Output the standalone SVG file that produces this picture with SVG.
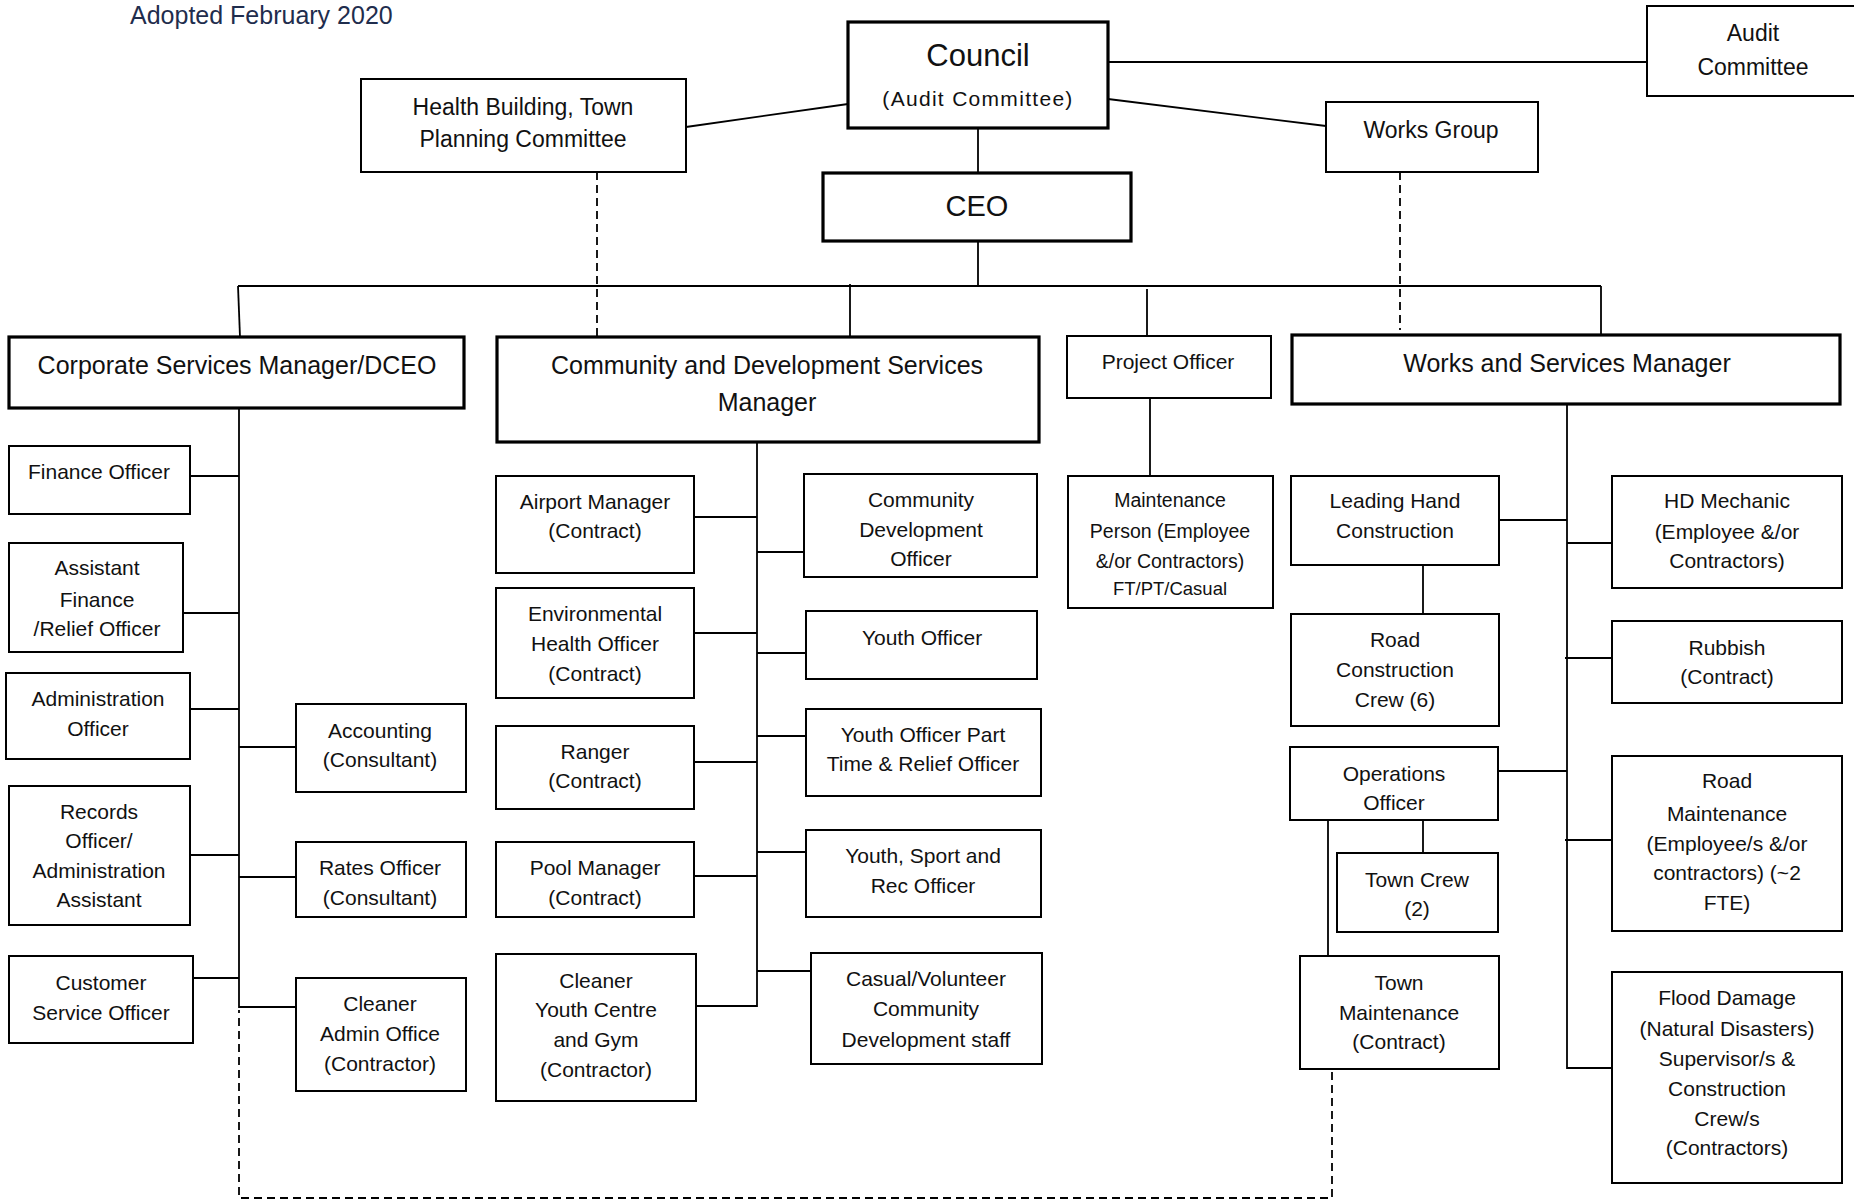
<svg xmlns="http://www.w3.org/2000/svg" width="1854" height="1201" viewBox="0 0 1854 1201">
<style>
.box{fill:#fff;stroke:#000;stroke-width:2}
.thick{stroke-width:3.2}
.t{font-family:"Liberation Sans",Arial,sans-serif;font-size:21px;text-anchor:middle;dominant-baseline:central;fill:#111}
.big{font-size:25px}
.top{font-size:23px}
.sm{font-size:19.5px}
.xs{font-size:18.5px}
.ln{stroke:#000;stroke-width:1.8;fill:none}
.dash{stroke:#000;stroke-width:1.8;fill:none;stroke-dasharray:8 5}
</style>
<rect width="1854" height="1201" fill="#fff"/>
<text x="130" y="24" style="font-family:'Liberation Sans',Arial,sans-serif;font-size:25px;fill:#1f2d4d">Adopted February 2020</text>

<g id="connectors">
<line class="ln" x1="686" y1="127" x2="848" y2="104"/>
<line class="ln" x1="1108" y1="62" x2="1647" y2="62"/>
<line class="ln" x1="1108" y1="99" x2="1326" y2="126"/>
<line class="ln" x1="978" y1="128" x2="978" y2="173"/>
<line class="ln" x1="978" y1="241" x2="978" y2="286"/>
<line class="ln" x1="238" y1="286" x2="1601" y2="286"/>
<line class="ln" x1="238" y1="286" x2="240" y2="337"/>
<line class="ln" x1="850" y1="284" x2="850" y2="337"/>
<line class="ln" x1="1147" y1="289" x2="1147" y2="336"/>
<line class="ln" x1="1601" y1="286" x2="1601" y2="334"/>
<line class="dash" x1="597" y1="172" x2="597" y2="337"/>
<line class="dash" x1="1400" y1="172" x2="1400" y2="330"/>
<!-- corporate -->
<line class="ln" x1="239" y1="408" x2="239" y2="1008"/>
<line class="ln" x1="190" y1="476" x2="239" y2="476"/>
<line class="ln" x1="183" y1="613" x2="239" y2="613"/>
<line class="ln" x1="190" y1="709" x2="239" y2="709"/>
<line class="ln" x1="239" y1="747" x2="296" y2="747"/>
<line class="ln" x1="190" y1="855" x2="239" y2="855"/>
<line class="ln" x1="239" y1="877" x2="296" y2="877"/>
<line class="ln" x1="193" y1="978" x2="239" y2="978"/>
<line class="ln" x1="239" y1="1007" x2="296" y2="1007"/>
<!-- community -->
<line class="ln" x1="757" y1="442" x2="757" y2="1007"/>
<line class="ln" x1="694" y1="517" x2="757" y2="517"/>
<line class="ln" x1="694" y1="633" x2="757" y2="633"/>
<line class="ln" x1="694" y1="762" x2="757" y2="762"/>
<line class="ln" x1="694" y1="876" x2="757" y2="876"/>
<line class="ln" x1="696" y1="1006" x2="757" y2="1006"/>
<line class="ln" x1="757" y1="552" x2="807" y2="552"/>
<line class="ln" x1="757" y1="653" x2="806" y2="653"/>
<line class="ln" x1="757" y1="736" x2="806" y2="736"/>
<line class="ln" x1="757" y1="852" x2="806" y2="852"/>
<line class="ln" x1="757" y1="971" x2="811" y2="971"/>
<!-- project -->
<line class="ln" x1="1150" y1="398" x2="1150" y2="476"/>
<!-- works -->
<line class="ln" x1="1567" y1="404" x2="1567" y2="1069"/>
<line class="ln" x1="1499" y1="520" x2="1567" y2="520"/>
<line class="ln" x1="1423" y1="565" x2="1423" y2="614"/>
<line class="ln" x1="1498" y1="771" x2="1567" y2="771"/>
<line class="ln" x1="1423" y1="818" x2="1423" y2="853"/>
<line class="ln" x1="1328" y1="820" x2="1328" y2="956"/>
<line class="ln" x1="1567" y1="543" x2="1612" y2="543"/>
<line class="ln" x1="1565" y1="658" x2="1614" y2="658"/>
<line class="ln" x1="1565" y1="840" x2="1612" y2="840"/>
<line class="ln" x1="1567" y1="1068" x2="1612" y2="1068"/>
<!-- dashed return -->
<polyline class="dash" points="1332,1072 1332,1198 239,1198 239,1010"/>
</g>

<g id="council"><rect class="box thick" x="848" y="22" width="260" height="106"/>
<text class="t" x="978" y="55" style="font-size:31px">Council</text>
<text class="t" x="978" y="98" style="font-size:21px;letter-spacing:1.3px">(Audit Committee)</text></g>
<g id="audit"><rect class="box" x="1647" y="6" width="215" height="90"/>
<text class="t top" x="1753" y="33">Audit</text><text class="t top" x="1753" y="67">Committee</text></g>
<g id="health"><rect class="box" x="361" y="79" width="325" height="93"/>
<text class="t top" x="523" y="107">Health Building, Town</text><text class="t top" x="523" y="139">Planning Committee</text></g>
<g id="worksgroup"><rect class="box" x="1326" y="102" width="212" height="70"/>
<text class="t top" x="1431" y="130">Works Group</text></g>
<g id="ceo"><rect class="box thick" x="823" y="173" width="308" height="68"/>
<text class="t" x="977" y="206" style="font-size:29px">CEO</text></g>

<g id="corporate"><rect class="box thick" x="9" y="337" width="455" height="71"/>
<text class="t big" x="237" y="365">Corporate Services Manager/DCEO</text></g>
<g id="cdsm"><rect class="box thick" x="497" y="337" width="542" height="105"/>
<text class="t big" x="767" y="365">Community and Development Services</text><text class="t big" x="767" y="402">Manager</text></g>
<g id="project"><rect class="box" x="1067" y="336" width="204" height="62"/>
<text class="t" x="1168" y="361">Project Officer</text></g>
<g id="wsm"><rect class="box thick" x="1292" y="335" width="548" height="69"/>
<text class="t big" x="1567" y="363">Works and Services Manager</text></g>

<g id="finance"><rect class="box" x="9" y="446" width="181" height="68"/>
<text class="t" x="99" y="471">Finance Officer</text></g>
<g id="assistfin"><rect class="box" x="9" y="543" width="174" height="109"/>
<text class="t" x="97" y="567">Assistant</text><text class="t" x="97" y="599">Finance</text><text class="t" x="97" y="628">/Relief Officer</text></g>
<g id="adminofficer"><rect class="box" x="6" y="673" width="184" height="86"/>
<text class="t" x="98" y="698">Administration</text><text class="t" x="98" y="728">Officer</text></g>
<g id="records"><rect class="box" x="9" y="786" width="181" height="139"/>
<text class="t" x="99" y="811">Records</text><text class="t" x="99" y="840">Officer/</text><text class="t" x="99" y="870">Administration</text><text class="t" x="99" y="899">Assistant</text></g>
<g id="customer"><rect class="box" x="9" y="956" width="184" height="87"/>
<text class="t" x="101" y="982">Customer</text><text class="t" x="101" y="1012">Service Officer</text></g>
<g id="accounting"><rect class="box" x="296" y="704" width="170" height="88"/>
<text class="t" x="380" y="730">Accounting</text><text class="t" x="380" y="759">(Consultant)</text></g>
<g id="rates"><rect class="box" x="296" y="842" width="170" height="75"/>
<text class="t" x="380" y="867">Rates Officer</text><text class="t" x="380" y="897">(Consultant)</text></g>
<g id="cleaneradmin"><rect class="box" x="296" y="978" width="170" height="113"/>
<text class="t" x="380" y="1003">Cleaner</text><text class="t" x="380" y="1033">Admin Office</text><text class="t" x="380" y="1063">(Contractor)</text></g>

<g id="airport"><rect class="box" x="496" y="476" width="198" height="97"/>
<text class="t" x="595" y="501">Airport Manager</text><text class="t" x="595" y="530">(Contract)</text></g>
<g id="envhealth"><rect class="box" x="496" y="588" width="198" height="110"/>
<text class="t" x="595" y="613">Environmental</text><text class="t" x="595" y="643">Health Officer</text><text class="t" x="595" y="673">(Contract)</text></g>
<g id="ranger"><rect class="box" x="496" y="726" width="198" height="83"/>
<text class="t" x="595" y="751">Ranger</text><text class="t" x="595" y="780">(Contract)</text></g>
<g id="pool"><rect class="box" x="496" y="842" width="198" height="75"/>
<text class="t" x="595" y="867">Pool Manager</text><text class="t" x="595" y="897">(Contract)</text></g>
<g id="cleaneryouth"><rect class="box" x="496" y="954" width="200" height="147"/>
<text class="t" x="596" y="980">Cleaner</text><text class="t" x="596" y="1009">Youth Centre</text><text class="t" x="596" y="1039">and Gym</text><text class="t" x="596" y="1069">(Contractor)</text></g>
<g id="cdo"><rect class="box" x="804" y="474" width="233" height="103"/>
<text class="t" x="921" y="499">Community</text><text class="t" x="921" y="529">Development</text><text class="t" x="921" y="558">Officer</text></g>
<g id="youth"><rect class="box" x="806" y="611" width="231" height="68"/>
<text class="t" x="922" y="637">Youth Officer</text></g>
<g id="youthpt"><rect class="box" x="806" y="709" width="235" height="87"/>
<text class="t" x="923" y="734">Youth Officer Part</text><text class="t" x="923" y="763">Time &amp; Relief Officer</text></g>
<g id="youthsport"><rect class="box" x="806" y="830" width="235" height="87"/>
<text class="t" x="923" y="855">Youth, Sport and</text><text class="t" x="923" y="885">Rec Officer</text></g>
<g id="casual"><rect class="box" x="811" y="953" width="231" height="111"/>
<text class="t" x="926" y="978">Casual/Volunteer</text><text class="t" x="926" y="1008">Community</text><text class="t" x="926" y="1039">Development staff</text></g>

<g id="maintenance"><rect class="box" x="1068" y="476" width="205" height="132"/>
<text class="t sm" x="1170" y="500">Maintenance</text><text class="t sm" x="1170" y="531">Person (Employee</text><text class="t sm" x="1170" y="561">&amp;/or Contractors)</text><text class="t xs" x="1170" y="588">FT/PT/Casual</text></g>

<g id="leadinghand"><rect class="box" x="1291" y="476" width="208" height="89"/>
<text class="t" x="1395" y="500">Leading Hand</text><text class="t" x="1395" y="530">Construction</text></g>
<g id="roadconstr"><rect class="box" x="1291" y="614" width="208" height="112"/>
<text class="t" x="1395" y="639">Road</text><text class="t" x="1395" y="669">Construction</text><text class="t" x="1395" y="699">Crew (6)</text></g>
<g id="operations"><rect class="box" x="1290" y="747" width="208" height="73"/>
<text class="t" x="1394" y="773">Operations</text><text class="t" x="1394" y="802">Officer</text></g>
<g id="towncrew"><rect class="box" x="1337" y="853" width="161" height="79"/>
<text class="t" x="1417" y="879">Town Crew</text><text class="t" x="1417" y="908">(2)</text></g>
<g id="townmaint"><rect class="box" x="1300" y="956" width="199" height="113"/>
<text class="t" x="1399" y="982">Town</text><text class="t" x="1399" y="1012">Maintenance</text><text class="t" x="1399" y="1041">(Contract)</text></g>
<g id="hdmech"><rect class="box" x="1612" y="476" width="230" height="112"/>
<text class="t" x="1727" y="500">HD Mechanic</text><text class="t" x="1727" y="531">(Employee &amp;/or</text><text class="t" x="1727" y="560">Contractors)</text></g>
<g id="rubbish"><rect class="box" x="1612" y="621" width="230" height="82"/>
<text class="t" x="1727" y="647">Rubbish</text><text class="t" x="1727" y="676">(Contract)</text></g>
<g id="roadmaint"><rect class="box" x="1612" y="756" width="230" height="175"/>
<text class="t" x="1727" y="780">Road</text><text class="t" x="1727" y="813">Maintenance</text><text class="t" x="1727" y="843">(Employee/s &amp;/or</text><text class="t" x="1727" y="872">contractors) (~2</text><text class="t" x="1727" y="902">FTE)</text></g>
<g id="flood"><rect class="box" x="1612" y="972" width="230" height="211"/>
<text class="t" x="1727" y="997">Flood Damage</text><text class="t" x="1727" y="1028">(Natural Disasters)</text><text class="t" x="1727" y="1058">Supervisor/s &amp;</text><text class="t" x="1727" y="1088">Construction</text><text class="t" x="1727" y="1118">Crew/s</text><text class="t" x="1727" y="1147">(Contractors)</text></g>
</svg>
